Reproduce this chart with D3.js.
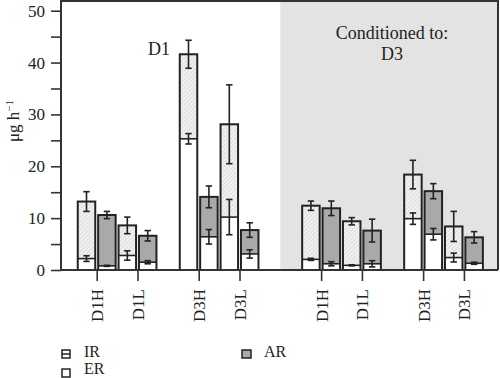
<!DOCTYPE html>
<html><head><meta charset="utf-8">
<script src="https://cdn.jsdelivr.net/npm/d3@7"></script>
<style>body{margin:0;background:#fff}svg{display:block}svg text{font-family:"Liberation Serif","Times New Roman",Times,"DejaVu Serif",serif !important}</style>
</head><body><svg id="c" width="500" height="378"></svg>
<script>
const categories = ["D1H","D1L","D3H","D3L","D1H","D1L","D3H","D3L"];
const conditions = ["D1","D3"];
const irTotal    = [13.2, 8.6, 41.6, 28.1, 12.4, 9.4, 18.4, 8.4];
const irTotalErr = [1.9, 1.6, 2.7, 7.6, 0.9, 0.7, 2.75, 2.9];
const erA        = [2.2, 2.8, 25.3, 10.2, 2.05, 0.9, 9.9, 2.4];
const erAErr     = [0.55, 0.9, 1.0, 3.4, 0.2, 0.1, 1.1, 0.85];
const arTotal    = [10.6, 6.6, 14.1, 7.7, 11.9, 7.6, 15.2, 6.3];
const arTotalErr = [0.7, 1.0, 2.1, 1.4, 1.4, 2.2, 1.45, 1.1];
const erB        = [0.8, 1.5, 6.4, 3.1, 1.2, 1.2, 6.9, 1.3];
const erBErr     = [0.1, 0.3, 1.4, 0.8, 0.4, 0.6, 1.1, 0.2];
const yTicks = [0,10,20,30,40,50];
const legendItems = ["IR","ER","AR"];

(function(){
const svg = d3.select("#c");
const pL=61, pR=498, pT=1, pB=270;
const y = d3.scaleLinear().domain([0,50]).range([pB, 10.7]);
// slot positions: pairs within subgroup, gaps between subgroups and conditions
const slot = i => { const c=Math.floor(i/4), k=i%4; return c*11 + k*2 + (k>=2?1:0); };
const x = d3.scaleLinear().domain([-1.75, 19.67]).range([pL, pR]);
const bw = 17.5;
const ink = "#222";

const defs = svg.append("defs");
const pat = defs.append("pattern").attr("id","hatch").attr("patternUnits","userSpaceOnUse")
  .attr("width",3).attr("height",3).attr("patternTransform","rotate(45)");
pat.append("rect").attr("width",3).attr("height",3).attr("fill","#f1f1f1");
pat.append("line").attr("x1",0).attr("y1",0).attr("x2",0).attr("y2",3).attr("stroke","#c8c8c8").attr("stroke-width",1);

svg.append("rect").attr("x",x(9)).attr("y",pT).attr("width",pR-x(9)).attr("height",pB-pT).attr("fill","#e3e3e3");
svg.append("path").attr("d",`M${pL},${pB}V${pT}H${pR}V${pB}`).attr("fill","none").attr("stroke","#333").attr("stroke-width",2);

function errBar(g, cx, v, e){
  g.append("line").attr("x1",cx).attr("x2",cx).attr("y1",y(v+e)).attr("y2",y(v-e)).attr("stroke",ink).attr("stroke-width",1.6);
  [v+e, v-e].forEach(t=>g.append("line").attr("x1",cx-3.2).attr("x2",cx+3.2).attr("y1",y(t)).attr("y2",y(t)).attr("stroke",ink).attr("stroke-width",1.6));
}

const g = svg.append("g");
categories.forEach((c,i)=>{
  const s = slot(i);
  const ca = x(s-0.5), cb = x(s+0.5);
  g.append("rect").attr("x",ca-bw/2).attr("y",y(irTotal[i])).attr("width",bw).attr("height",y(erA[i])-y(irTotal[i])).attr("fill","url(#hatch)");
  g.append("rect").attr("x",ca-bw/2).attr("y",y(erA[i])).attr("width",bw).attr("height",pB-y(erA[i])).attr("fill","#fff");
  g.append("rect").attr("x",ca-bw/2).attr("y",y(irTotal[i])).attr("width",bw).attr("height",pB-y(irTotal[i])).attr("fill","none").attr("stroke",ink).attr("stroke-width",2);
  g.append("line").attr("x1",ca-bw/2).attr("x2",ca+bw/2).attr("y1",y(erA[i])).attr("y2",y(erA[i])).attr("stroke",ink).attr("stroke-width",1.6);
  errBar(g, ca, irTotal[i], irTotalErr[i]);
  errBar(g, ca, erA[i], erAErr[i]);
  g.append("rect").attr("x",cb-bw/2).attr("y",y(arTotal[i])).attr("width",bw).attr("height",y(erB[i])-y(arTotal[i])).attr("fill","#a9a9a9");
  g.append("rect").attr("x",cb-bw/2).attr("y",y(erB[i])).attr("width",bw).attr("height",pB-y(erB[i])).attr("fill","#fff");
  g.append("rect").attr("x",cb-bw/2).attr("y",y(arTotal[i])).attr("width",bw).attr("height",pB-y(arTotal[i])).attr("fill","none").attr("stroke",ink).attr("stroke-width",2);
  g.append("line").attr("x1",cb-bw/2).attr("x2",cb+bw/2).attr("y1",y(erB[i])).attr("y2",y(erB[i])).attr("stroke",ink).attr("stroke-width",1.6);
  errBar(g, cb, arTotal[i], arTotalErr[i]);
  errBar(g, cb, erB[i], erBErr[i]);
});

const ya = svg.append("g").attr("transform",`translate(${pL},0)`)
  .call(d3.axisLeft(y).tickValues(d3.range(0,51,5)).tickSize(10).tickFormat(d=>yTicks.includes(d)?d:""));
ya.select(".domain").remove();
ya.attr("font-family",null);
ya.selectAll("line").attr("stroke","#333").attr("stroke-width",1.6);
ya.selectAll("text").attr("font-size",17).attr("fill",ink).attr("dx",-3);

const xa = svg.append("g").attr("transform",`translate(0,${pB})`)
  .call(d3.axisBottom(x).tickValues(categories.map((c,i)=>slot(i))).tickSize(11).tickFormat((d,i)=>categories[i]));
xa.attr("font-family",null);
xa.select(".domain").attr("d",`M${pL},0H${pR}`).attr("stroke","#333").attr("stroke-width",2);
xa.selectAll("line").attr("stroke","#333").attr("stroke-width",1.6);
xa.selectAll("text").attr("font-size",17).attr("fill",ink)
  .attr("text-anchor","end").attr("transform","rotate(-90)").attr("x",-19).attr("y",0).attr("dy","0.35em");

const yl = svg.append("text").attr("transform","translate(19,121) rotate(-90)").attr("text-anchor","middle").attr("font-size",17).attr("fill",ink);
yl.append("tspan").text("μg h");
yl.append("tspan").attr("dy",-6).attr("font-size",11).text("−1");

svg.append("text").attr("x",159).attr("y",55).attr("text-anchor","middle").attr("font-size",18).attr("fill",ink).text(conditions[0]);
svg.append("text").attr("x",392).attr("y",39).attr("text-anchor","middle").attr("font-size",18).attr("fill",ink).text("Conditioned to:");
svg.append("text").attr("x",392).attr("y",60).attr("text-anchor","middle").attr("font-size",18).attr("fill",ink).text(conditions[1]);

const lg = svg.append("g");
const lpos = [[62,350,356.5],[62,369,374.3],[242,350,356.5]];
legendItems.forEach((k,i)=>{
  const [lx,ly,tb]=lpos[i];
  const gg = lg.append("g");
  if(k==="AR"){
    gg.append("rect").attr("x",lx).attr("y",ly).attr("width",9).attr("height",8).attr("fill","#a9a9a9").attr("stroke",ink).attr("stroke-width",1.5);
  } else {
    gg.append("rect").attr("x",lx).attr("y",ly).attr("width",8).attr("height",8).attr("fill","#fff").attr("stroke",ink).attr("stroke-width",1.5);
    if(k==="IR") gg.append("line").attr("x1",lx).attr("x2",lx+8).attr("y1",ly+4).attr("y2",ly+4).attr("stroke",ink).attr("stroke-width",1.5);
  }
  gg.append("text").attr("x",lx+22).attr("y",tb).attr("font-size",16).attr("fill",ink).text(k);
});
})();
</script></body></html>
